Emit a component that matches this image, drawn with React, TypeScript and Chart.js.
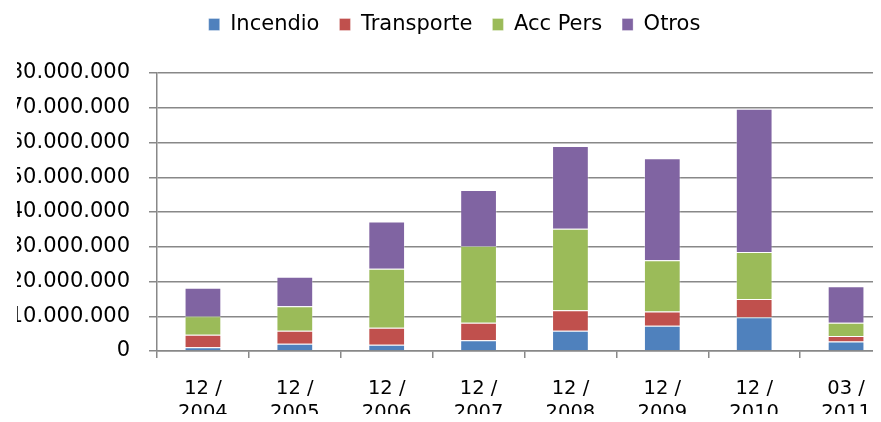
import React, { useEffect, useRef } from "react";
import { Chart, registerables } from "chart.js";

Chart.register(...registerables);

const categories: string[][] = [
  ["12 /", "2004"],
  ["12 /", "2005"],
  ["12 /", "2006"],
  ["12 /", "2007"],
  ["12 /", "2008"],
  ["12 /", "2009"],
  ["12 /", "2010"],
  ["03 /", "2011"],
];

const incendio = [1100000, 2100000, 1800000, 3100000, 5800000, 7300000, 9700000, 2700000];
const transporte = [3600000, 3700000, 4900000, 5000000, 5900000, 4100000, 5300000, 1600000];
const accPers = [5300000, 7100000, 17000000, 22100000, 23500000, 14700000, 13500000, 3800000];
const otros = [8200000, 8500000, 13600000, 16100000, 23800000, 29400000, 41200000, 10500000];

const seriesNames = ["Incendio", "Transporte", "Acc Pers", "Otros"];
const seriesColors = ["#4F81BD", "#C0504D", "#9BBB59", "#8064A2"];

const yMax = 80000000;
const yStep = 10000000;

const CANVAS_W = 892;
const CANVAS_H = 432;
const FAMILY = "'DejaVu Sans', Verdana, sans-serif";

function fmt(v: number): string {
  return Math.round(v)
    .toString()
    .replace(/\B(?=(\d{3})+(?!\d))/g, ".");
}

export default function App() {
  const ref = useRef<HTMLCanvasElement | null>(null);

  useEffect(() => {
    if (!ref.current) return;
    const legendHeight = {
      id: "legendHeight",
      beforeInit(chart: any) {
        const fit = chart.legend.fit;
        chart.legend.fit = function () {
          fit.call(this);
          this.height = 79;
        };
      },
    };
    const seriesData = [incendio, transporte, accPers, otros];
    const gridColor = "#888888";
    const chart = new Chart(ref.current, {
      type: "bar",
      data: {
        labels: categories,
        datasets: seriesNames.map((name, i) => ({
          label: name,
          data: seriesData[i],
          backgroundColor: seriesColors[i],
          borderColor: "rgba(255,255,255,0.3)",
          borderWidth: 1,
          barPercentage: 0.4,
          categoryPercentage: 1,
        })),
      },
      options: {
        responsive: false,
        animation: false,
        devicePixelRatio: 1,
        layout: { padding: { left: 17, right: 0, top: 0, bottom: 0 } },
        plugins: {
          legend: {
            position: "top",
            labels: {
              boxWidth: 11,
              boxHeight: 12,
              padding: 20,
              color: "#000000",
              font: { family: FAMILY, size: 21 },
            },
          },
          tooltip: { enabled: false },
        },
        scales: {
          x: {
            stacked: true,
            afterFit(scale: any) {
              scale.height = CANVAS_H - 357;
            },
            grid: {
              offset: true,
              drawOnChartArea: false,
              drawTicks: true,
              tickLength: 7,
              color: gridColor,
              lineWidth: 1.5,
            },
            border: { display: true, color: gridColor, width: 1.5 },
            ticks: {
              color: "#000000",
              padding: 19,
              maxRotation: 0,
              autoSkip: false,
              font: { family: FAMILY, size: 19.5, lineHeight: "24px" },
            },
          },
          y: {
            stacked: true,
            min: 0,
            max: yMax,
            afterFit(scale: any) {
              scale.width = 140;
            },
            grid: {
              color: gridColor,
              lineWidth: 1.5,
              tickLength: 8,
              drawTicks: true,
            },
            border: { display: true, color: gridColor, width: 1.5 },
            ticks: {
              stepSize: yStep,
              color: "#000000",
              padding: 19,
              font: { family: FAMILY, size: 21 },
              callback: (v: any) => fmt(Number(v)),
            },
          },
        },
      },
      plugins: [legendHeight],
    });
    return () => chart.destroy();
  }, []);

  return (
    <div style={{ margin: -8, width: 881, height: 422, overflow: "hidden", position: "relative", background: "#fff" }}>
      <div style={{ position: "absolute", left: 0, top: -6, width: CANVAS_W, height: CANVAS_H }}>
        <canvas ref={ref} width={CANVAS_W} height={CANVAS_H} style={{ width: CANVAS_W, height: CANVAS_H, display: "block" }} />
      </div>
    </div>
  );
}
